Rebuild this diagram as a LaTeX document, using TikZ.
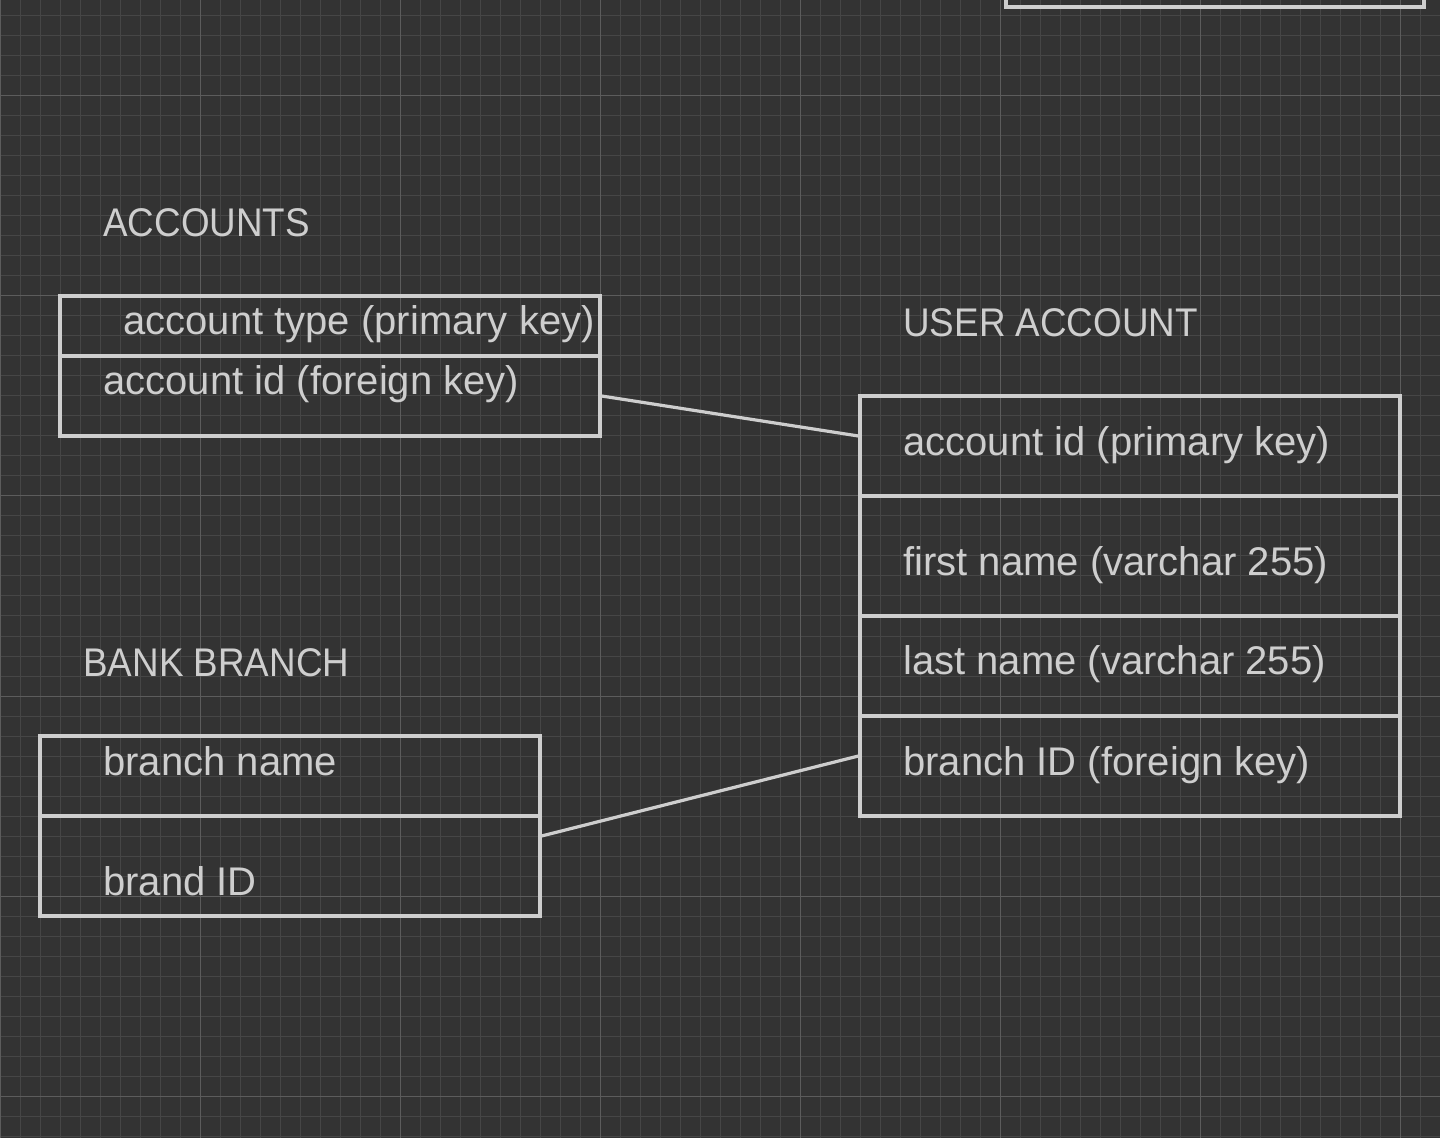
\documentclass[tikz,border=0pt]{standalone}
\usepackage{fontspec}
\setmainfont{Liberation Sans}
\usepackage{xcolor}
\usetikzlibrary{positioning,calc}

\definecolor{canvas}{RGB}{51,51,51}
\definecolor{gridfine}{RGB}{70,70,70}
\definecolor{gridbold}{RGB}{92,92,92}
\definecolor{ink}{RGB}{206,206,206}
\newcommand{\capsfit}[1]{\scalebox{0.92}[1]{#1}}

\begin{document}
\begin{tikzpicture}[x=0.5pt,y=-0.5pt]
  \tikzset{
    cell/.style={draw=ink, line width=1.6pt, inner sep=0pt, minimum width=270pt},
    field/.style={anchor=base west, inner sep=0pt, text=ink, font=\fontsize{20}{24}\selectfont},
    title/.style={field},
    link/.style={draw=ink, line width=1.6pt},
    finegrid/.style={draw=gridfine, line width=0.5pt},
    boldgrid/.style={draw=gridbold, line width=0.5pt}
  }
  \fill[canvas] (0,0) rectangle (1440,1138);
  \useasboundingbox (0,0) rectangle (1440,1138);

  % background grid
  \foreach \gx in {0,20,...,1440} \draw[finegrid] (\gx,0) -- (\gx,1138);
  \foreach \gy in {16,36,...,1136} \draw[finegrid] (0,\gy) -- (1440,\gy);
  \foreach \gx in {0,200,...,1400} \draw[boldgrid] (\gx,0) -- (\gx,1138);
  \foreach \gy in {96,296,...,1096} \draw[boldgrid] (0,\gy) -- (1440,\gy);

  % table cut off at the top edge
  \node[cell,minimum width=209pt,minimum height=53.5pt] (offtop) at (1215,-46.5) {};

  % accounts
  \node[title] (acctitle) at (103,237) {\capsfit{ACCOUNTS}};
  \node[cell,minimum height=30pt] (acc1) at (330,326) {};
  \node[cell,minimum height=40pt] (acc2) at (330,396) {};
  \node[field] (acctype) at (123,335) {account type (primary key)};
  \node[field] (accid) at (103,395) {account id (foreign key)};

  % user account
  \node[title] (usrtitle) at (903,337) {\capsfit{USER ACCOUNT}};
  \node[cell,minimum height=50pt] (usr1) at (1130,446) {};
  \node[cell,minimum height=60pt] (usr2) at (1130,556) {};
  \node[cell,minimum height=50pt] (usr3) at (1130,666) {};
  \node[cell,minimum height=50pt] (usr4) at (1130,766) {};
  \node[field] (usrid) at (903,456) {account id (primary key)};
  \node[field] (usrfirst) at (903,575) {first name (varchar 255)};
  \node[field] (usrlast) at (903,675) {last name (varchar 255)};
  \node[field] (usrbranch) at (903,775) {branch ID (foreign key)};

  % bank branch
  \node[title] (brntitle) at (83,676) {\capsfit{BANK BRANCH}};
  \node[cell,minimum width=250pt,minimum height=40pt] (brn1) at (290,776) {};
  \node[cell,minimum width=250pt,minimum height=50pt] (brn2) at (290,866) {};
  \node[field] (brnname) at (103,775) {branch name};
  \node[field] (brnid) at (103,895) {brand ID};

  % relations
  \draw[link] (acc2.east) -- ([yshift=5pt]usr1.west);
  \draw[link] ([yshift=15pt]brn2.east) -- ([yshift=5pt]usr4.west);
\end{tikzpicture}
\end{document}
